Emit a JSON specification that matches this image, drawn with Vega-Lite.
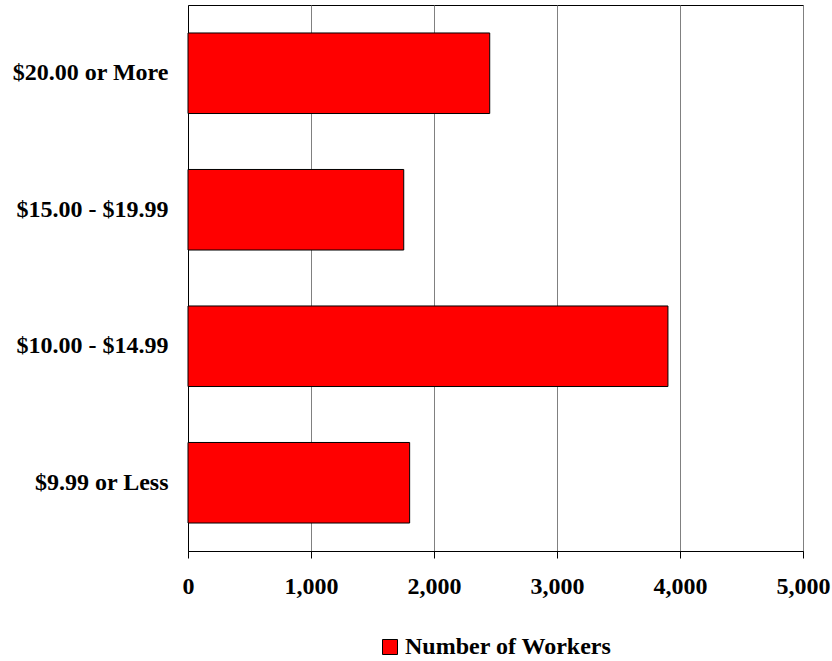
{
  "$schema": "https://vega.github.io/schema/vega-lite/v6.json",
  "autosize": {"type": "none"},
  "padding": {"left": 188, "top": 5, "right": 29, "bottom": 110},
  "width": 615,
  "height": 546,
  "background": "white",
  "config": {
    "font": "Liberation Serif",
    "view": {"stroke": "black", "strokeWidth": 1}
  },
  "data": {
    "values": [
      {"range": "$20.00 or More", "workers": 2453, "series": "Number of Workers"},
      {"range": "$15.00 - $19.99", "workers": 1754, "series": "Number of Workers"},
      {"range": "$10.00 - $14.99", "workers": 3902, "series": "Number of Workers"},
      {"range": "$9.99 or Less", "workers": 1802, "series": "Number of Workers"}
    ]
  },
  "mark": {"type": "bar", "stroke": "black", "strokeWidth": 1},
  "encoding": {
    "y": {
      "field": "range",
      "type": "nominal",
      "sort": null,
      "scale": {"paddingInner": 0.41, "paddingOuter": 0.205},
      "axis": {
        "title": null,
        "ticks": false,
        "labelPadding": 20,
        "labelFont": "Liberation Serif",
        "labelFontSize": 24,
        "labelFontWeight": "bold",
        "labelColor": "black",
        "labelLimit": 300,
        "domainColor": "black",
        "grid": false
      }
    },
    "x": {
      "field": "workers",
      "type": "quantitative",
      "scale": {"domain": [0, 5000], "nice": false},
      "axis": {
        "title": null,
        "values": [0, 1000, 2000, 3000, 4000, 5000],
        "format": ",d",
        "grid": true,
        "gridColor": "#808080",
        "gridWidth": 1,
        "domainColor": "black",
        "tickColor": "black",
        "tickSize": 7,
        "labelPadding": 16,
        "labelFont": "Liberation Serif",
        "labelFontSize": 24,
        "labelFontWeight": "bold",
        "labelColor": "black",
        "labelFlush": false
      }
    },
    "color": {
      "field": "series",
      "type": "nominal",
      "scale": {"range": ["#FF0000"]},
      "legend": {
        "title": null,
        "orient": "none",
        "legendX": 190,
        "legendY": 630,
        "direction": "horizontal",
        "symbolType": "square",
        "symbolSize": 225,
        "symbolStrokeColor": "black",
        "symbolStrokeWidth": 1,
        "symbolOpacity": 1,
        "labelFont": "Liberation Serif",
        "labelFontSize": 24,
        "labelFontWeight": "bold",
        "labelColor": "black",
        "labelOffset": 3,
        "labelLimit": 400
      }
    }
  }
}
